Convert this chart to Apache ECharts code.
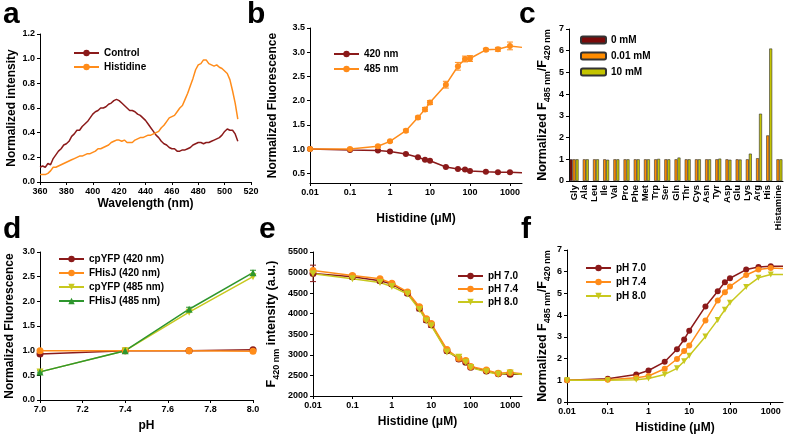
<!DOCTYPE html>
<html><head><meta charset="utf-8">
<script src="https://cdn.jsdelivr.net/npm/echarts@6/dist/echarts.min.js"></script>
<style>html,body{margin:0;padding:0;background:#fff}#c{width:787px;height:444px}</style>
</head><body><div id="c"></div>
<script>
// ---- Panel a: spectra ----
const wavelengths = [360,362,364,366,368,370,372,374,376,378,380,382,384,386,388,390,392,394,396,398,400,402,404,406,408,410,412,414,416,418,420,422,424,426,428,430,432,434,436,438,440,442,444,446,448,450,452,454,456,458,460,462,464,466,468,470,472,474,476,478,480,482,484,486,488,490,492,494,496,498,500,502,504,506,508,510];
const controlSpec = [0.12,0.13,0.12,0.15,0.14,0.19,0.22,0.25,0.27,0.30,0.31,0.33,0.37,0.39,0.42,0.42,0.45,0.47,0.49,0.52,0.55,0.57,0.58,0.60,0.60,0.61,0.63,0.64,0.66,0.67,0.66,0.64,0.62,0.60,0.58,0.58,0.57,0.55,0.54,0.52,0.50,0.47,0.44,0.41,0.38,0.36,0.33,0.31,0.30,0.28,0.27,0.27,0.25,0.25,0.26,0.26,0.27,0.28,0.30,0.31,0.32,0.32,0.31,0.32,0.32,0.33,0.34,0.35,0.36,0.38,0.41,0.43,0.42,0.42,0.39,0.33];
const histidineSpec = [0.06,0.06,0.06,0.07,0.09,0.12,0.12,0.13,0.14,0.15,0.16,0.17,0.18,0.19,0.20,0.21,0.21,0.22,0.23,0.23,0.24,0.25,0.27,0.27,0.28,0.29,0.30,0.32,0.33,0.34,0.34,0.33,0.34,0.32,0.32,0.32,0.34,0.35,0.36,0.36,0.37,0.38,0.38,0.39,0.40,0.41,0.44,0.46,0.49,0.52,0.53,0.54,0.57,0.60,0.62,0.67,0.72,0.78,0.84,0.91,0.95,0.96,0.99,0.99,0.96,0.95,0.94,0.95,0.93,0.92,0.90,0.88,0.83,0.74,0.64,0.51];

// ---- Histidine concentrations (µM) for b, e, f (last value: curve end, no marker) ----
const conc = [0.01,0.1,0.5,1,2.5,5,7.5,10,25,50,75,100,250,500,1000,2000];

// ---- Panel b ----
const b420 = [1.0,0.98,0.97,0.95,0.90,0.83,0.78,0.76,0.63,0.59,0.58,0.55,0.53,0.52,0.52,0.51];
const b485 = [1.0,1.0,1.06,1.16,1.38,1.65,1.82,1.96,2.33,2.71,2.86,2.87,3.05,3.06,3.13,3.10];
const b485err = [0.02,0.02,0.02,0.02,0.03,0.03,0.04,0.04,0.07,0.08,0.06,0.06,0.03,0.04,0.08,0];
const b420err = [0.01,0.01,0.01,0.01,0.01,0.01,0.01,0.01,0.01,0.01,0.01,0.01,0.01,0.01,0.01,0];

// ---- Panel c ----
const aminoAcids = ['Gly','Ala','Leu','Ile','Val','Pro','Phe','Met','Trp','Ser','Gln','Thr','Cys','Asn','Tyr','Asp','Glu','Lys','Arg','His','Histamine'];
const c0mM = [1,null,null,null,null,null,null,null,null,null,null,null,null,null,null,null,null,null,null,null,null];
const c001mM = [1,1,1,1,1,1,1,1,1,1,1,1,1,1,1,1,1,1,1.05,2.1,1];
const c10mM = [1,1,1,0.98,1,1,1,1,1.02,1,1.08,1,1,1,1.03,0.98,0.99,1.26,3.1,6.1,1.0];

// ---- Panel d ----
const pHs = [7.0,7.4,7.7,8.0];
const cpYFP420 = [0.93,1.0,1.0,1.02];
const FHisJ420 = [1.0,1.0,1.0,0.99];
const cpYFP485 = [0.57,1.0,1.78,2.50];
const FHisJ485 = [0.57,1.0,1.84,2.58];
const FHisJ485err = [0.02,0.02,0.04,0.05];

// ---- Panel e ----
const e70 = [4980,4900,4800,4720,4500,4130,3850,3730,3100,2900,2820,2700,2610,2540,2530,2530];
const e74 = [5050,4930,4850,4740,4530,4170,3880,3760,3130,2920,2860,2720,2630,2550,2570,2540];
const e80 = [4970,4850,4760,4660,4480,4100,3830,3710,3070,2940,2820,2690,2590,2530,2560,2520];
const e70err = [200,60,50,50,50,60,60,60,50,50,40,40,40,40,40,0];

// ---- Panel f ----
const f70 = [1.0,1.07,1.27,1.45,1.85,2.43,2.88,3.28,4.40,5.10,5.52,5.70,6.10,6.22,6.25,6.25];
const f74 = [1.0,1.02,1.12,1.20,1.53,1.98,2.35,2.60,3.75,4.68,5.05,5.32,5.85,6.10,6.17,6.15];
const f80 = [1.0,1.0,1.02,1.08,1.27,1.55,1.88,2.13,3.02,3.78,4.25,4.57,5.30,5.72,5.87,5.87];

const DR = '#8B1A1A', OR = '#FF8C1A', YG = '#C8C81E', GR = '#2E962E';
const FF = 'Liberation Sans';

const chart = echarts.init(document.getElementById('c'), null, {renderer:'canvas'});

function zip(xs, ys){ return xs.map((x,i)=> (i===xs.length-1 && xs===conc) ? {value:[x,ys[i]], symbol:'none'} : [x,ys[i]]); }

function errSeries(xi, yi, xs, ys, es, color){
  const data = [];
  xs.forEach((x,i)=>{ if (es[i]) data.push([x, ys[i]-es[i], ys[i]+es[i]]); });
  return {type:'custom', xAxisIndex:xi, yAxisIndex:yi, data, z:1, silent:true,
    encode:{x:0, y:[1,2]},
    renderItem(params, api){
      const x = api.value(0);
      const lo = api.coord([x, api.value(1)]);
      const hi = api.coord([x, api.value(2)]);
      const w = 3;
      const st = {stroke:color, lineWidth:1};
      return {type:'group', children:[
        {type:'line', shape:{x1:lo[0],y1:lo[1],x2:hi[0],y2:hi[1]}, style:st},
        {type:'line', shape:{x1:lo[0]-w,y1:lo[1],x2:lo[0]+w,y2:lo[1]}, style:st},
        {type:'line', shape:{x1:hi[0]-w,y1:hi[1],x2:hi[0]+w,y2:hi[1]}, style:st}]};
    }};
}

const axLine = {show:true, lineStyle:{color:'#000', width:1}};
const axTick = {show:true, length:3, lineStyle:{color:'#000'}};
const lbl = (extra)=>Object.assign({color:'#000', fontSize:9, fontWeight:'bold', fontFamily:FF, margin:5}, extra||{});
const nameStyle = {color:'#000', fontSize:12, fontWeight:'bold', fontFamily:FF};
const logFmt = v => { const r = +(+v).toPrecision(3); return [0.01,0.1,1,10,100,1000].includes(r) ? String(r) : ''; };

const subName = {
  rich:{
    n:{fontSize:12.5, fontWeight:'bold', fontFamily:FF, color:'#000', lineHeight:18},
    s:{fontSize:9, fontWeight:'bold', fontFamily:FF, color:'#000', verticalAlign:'bottom', lineHeight:18, padding:[6,0,0,0]}
  }
};

function xLog(gi, name, gap){
  return {type:'log', logBase:10, gridIndex:gi, min:0.01, max:2000, name, nameLocation:'middle', nameGap:gap,
    nameTextStyle:nameStyle, axisLine:axLine, axisTick:axTick, splitLine:{show:false},
    minorTick:{show:false}, axisLabel:lbl({formatter:logFmt, showMaxLabel:false})};
}
function yVal(gi, opts){
  return Object.assign({type:'value', gridIndex:gi, nameLocation:'middle', nameTextStyle:nameStyle,
    axisLine:axLine, axisTick:axTick, splitLine:{show:false}}, opts);
}

const line = (name, xi, data, color, symbol, size) => ({
  type:'line', name, xAxisIndex:xi, yAxisIndex:xi, data, color,
  symbol: symbol||'none', symbolSize: size||6, showSymbol: !!symbol,
  lineStyle:{color, width:1.5}, itemStyle:{color}, z:3, animation:false
});

const legendBase = {orient:'vertical', itemWidth:25, itemHeight:8, itemGap:3,
  textStyle:{color:'#000', fontSize:10, fontWeight:'bold', fontFamily:FF}, selectedMode:false};

const option = {
  animation:false,
  backgroundColor:'#fff',
  grid:[
    {left:40, top:34, width:211, height:148},
    {left:310, top:28, width:212, height:155},
    {left:569, top:29, width:214, height:152},
    {left:40, top:252, width:213, height:148},
    {left:313, top:252, width:209, height:144},
    {left:567, top:250, width:216, height:152}
  ],
  xAxis:[
    {type:'value', gridIndex:0, min:360, max:520, interval:20, name:'Wavelength (nm)', nameLocation:'middle', nameGap:16,
      nameTextStyle:nameStyle, axisLine:axLine, axisTick:axTick, splitLine:{show:false}, axisLabel:lbl()},
    xLog(1, 'Histidine (\u03bcM)', 30),
    {type:'category', gridIndex:2, data:aminoAcids, axisLine:axLine, axisTick:{show:false},
      axisLabel:lbl({rotate:90, interval:0, margin:4, fontSize:9.5})},
    {type:'value', gridIndex:3, min:7.0, max:8.0, interval:0.2, name:'pH', nameLocation:'middle', nameGap:20,
      nameTextStyle:nameStyle, axisLine:axLine, axisTick:axTick, splitLine:{show:false},
      axisLabel:lbl({formatter:v=>(+v).toFixed(1)})},
    xLog(4, 'Histidine (\u03bcM)', 20),
    xLog(5, 'Histidine (\u03bcM)', 20)
  ],
  yAxis:[
    yVal(0, {min:0, max:1.2, interval:0.2, name:'Normalized intensity', nameGap:22, axisLabel:lbl({formatter:v=>(+v).toFixed(1)})}),
    yVal(1, {min:0.3, max:3.5, name:'Normalized Fluorescence', nameGap:31,
      axisLabel:lbl({customValues:[0.5,1,1.5,2,2.5,3,3.5], formatter:v=>(+v).toFixed(1)}),
      axisTick:Object.assign({customValues:[0.5,1,1.5,2,2.5,3,3.5]}, axTick)}),
    yVal(2, {min:0, max:7, interval:1, name:'{n|Normalized F}{s|485 nm}{n|/F}{s|420 nm}', nameGap:17, nameTextStyle:subName, axisLabel:lbl()}),
    yVal(3, {min:0, max:3, interval:0.5, name:'Normalized Fluorescence', nameGap:24, axisLabel:lbl({formatter:v=>(+v).toFixed(1)})}),
    yVal(4, {min:2000, max:5500, interval:500, name:'{n|F}{s|420 nm}{n| intensity (a.u.)}', nameGap:32, nameTextStyle:subName, axisLabel:lbl({formatter:v=>String(Math.round(v))})}),
    yVal(5, {min:0, max:7, interval:1, name:'{n|Normalized F}{s|485 nm}{n|/F}{s|420 nm}', nameGap:15, nameTextStyle:subName, axisLabel:lbl()})
  ],
  legend:[
    Object.assign({}, legendBase, {left:68, top:43, itemGap:4, data:['Control','Histidine']}),
    Object.assign({}, legendBase, {left:328, top:44, itemGap:5, data:['420 nm','485 nm']}),
    Object.assign({}, legendBase, {left:575, top:30, itemGap:6, itemHeight:7, data:['0 mM','0.01 mM','10 mM']}),
    Object.assign({}, legendBase, {left:53, top:249, itemGap:4, data:['cpYFP (420 nm)','FHisJ (420 nm)','cpYFP (485 nm)','FHisJ (485 nm)']}),
    Object.assign({}, legendBase, {left:452, top:266, itemGap:3, data:['pH 7.0','pH 7.4','pH 8.0']})
  ],
  graphic:[
    {type:'text', left:3, top:0, style:{text:'a', font:'bold 30px Liberation Sans', fill:'#000'}},
    {type:'text', left:247, top:0, style:{text:'b', font:'bold 30px Liberation Sans', fill:'#000'}},
    {type:'text', left:519, top:0, style:{text:'c', font:'bold 30px Liberation Sans', fill:'#000'}},
    {type:'text', left:3, top:215, style:{text:'d', font:'bold 30px Liberation Sans', fill:'#000'}},
    {type:'text', left:259, top:215, style:{text:'e', font:'bold 30px Liberation Sans', fill:'#000'}},
    {type:'text', left:521, top:215, style:{text:'f', font:'bold 30px Liberation Sans', fill:'#000'}}
  ],
  series:[
    // a
    line('Control', 0, wavelengths.map((w,i)=>[w,controlSpec[i]]), DR),
    line('Histidine', 0, wavelengths.map((w,i)=>[w,histidineSpec[i]]), OR),
    // b
    errSeries(1,1,conc,b420,b420err,DR),
    errSeries(1,1,conc,b485,b485err,OR),
    line('420 nm', 1, zip(conc,b420), DR, 'circle', 6),
    line('485 nm', 1, zip(conc,b485), OR, 'circle', 6),
    // c
    {type:'bar', name:'0 mM', xAxisIndex:2, yAxisIndex:2, data:c0mM, barGap:'0%', barCategoryGap:'12%',
      itemStyle:{color:'#7A0A0A', borderColor:'#333', borderWidth:0.6}},
    {type:'bar', name:'0.01 mM', xAxisIndex:2, yAxisIndex:2, data:c001mM, barGap:'0%', barCategoryGap:'12%',
      itemStyle:{color:'#FF8C00', borderColor:'#333', borderWidth:0.6}},
    {type:'bar', name:'10 mM', xAxisIndex:2, yAxisIndex:2, data:c10mM, barGap:'0%', barCategoryGap:'12%',
      itemStyle:{color:'#C4C400', borderColor:'#333', borderWidth:0.6}},
    // d
    errSeries(3,3,pHs,FHisJ485,FHisJ485err,GR),
    line('cpYFP (420 nm)', 3, pHs.map((p,i)=>[p,cpYFP420[i]]), DR, 'circle', 7),
    line('FHisJ (420 nm)', 3, pHs.map((p,i)=>[p,FHisJ420[i]]), OR, 'circle', 7),
    line('cpYFP (485 nm)', 3, pHs.map((p,i)=>[p,cpYFP485[i]]), YG, 'triangle', 7),
    line('FHisJ (485 nm)', 3, pHs.map((p,i)=>[p,FHisJ485[i]]), GR, 'triangle', 7),
    // e
    errSeries(4,4,conc,e70,e70err,DR),
    line('pH 7.0', 4, zip(conc,e70), DR, 'circle', 7),
    line('pH 7.4', 4, zip(conc,e74), OR, 'circle', 7),
    line('pH 8.0', 4, zip(conc,e80), YG, 'triangle', 7),
    // f
    line('pH 7.0', 5, zip(conc,f70), DR, 'circle', 6),
    line('pH 7.4', 5, zip(conc,f74), OR, 'circle', 6),
    line('pH 8.0', 5, zip(conc,f80), YG, 'triangle', 6)
  ]
};
// inverted triangles for cpYFP 485 and pH 8.0 series
option.series.forEach(s=>{ if (s.name==='cpYFP (485 nm)' || s.name==='pH 8.0') s.symbolRotate = 180; });
chart.setOption(option);
// legend for f (same names as e)
chart.setOption({legend: option.legend.concat([Object.assign({}, legendBase, {left:580, top:258, itemGap:4, data:['pH 7.0','pH 7.4','pH 8.0']})])});
</script></body></html>
